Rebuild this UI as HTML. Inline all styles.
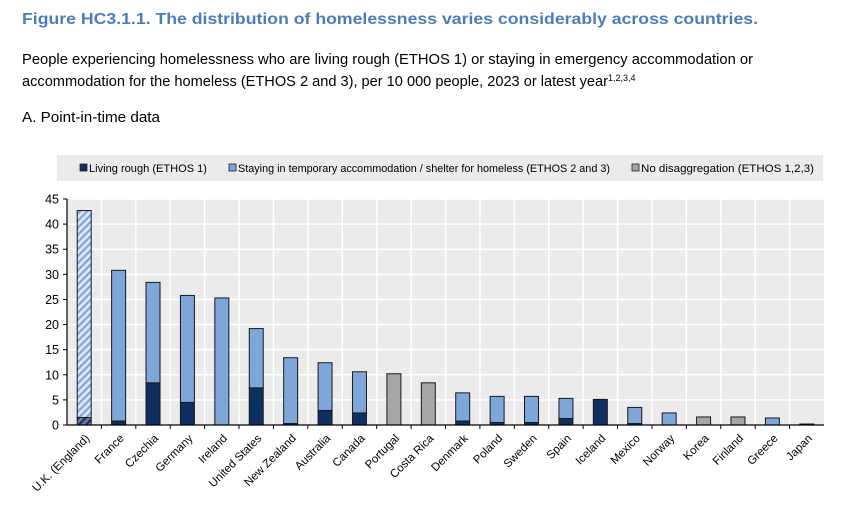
<!DOCTYPE html>
<html><head><meta charset="utf-8"><style>
body{margin:0;background:#fff}
svg text{font-family:"Liberation Sans",sans-serif}
</style></head><body>
<svg id="c" width="857" height="501" xmlns="http://www.w3.org/2000/svg">
<defs>
<pattern id="hatchL" patternUnits="userSpaceOnUse" width="5" height="5" patternTransform="rotate(45)">
<rect width="5" height="5" fill="#dce8f6"/><rect width="2.2" height="5" fill="#7ea6d8"/></pattern>
<pattern id="hatchD" patternUnits="userSpaceOnUse" width="5" height="5" patternTransform="rotate(45)">
<rect width="5" height="5" fill="#6a7fa0"/><rect width="2.2" height="5" fill="#0f2f63"/></pattern>
</defs>
<text x="22" y="24" font-size="16" font-weight="bold" fill="#4a7ebb" textLength="736" lengthAdjust="spacingAndGlyphs">Figure HC3.1.1. The distribution of homelessness varies considerably across countries.</text>
<text x="22" y="64" font-size="15" fill="#000" textLength="731" lengthAdjust="spacingAndGlyphs">People experiencing homelessness who are living rough (ETHOS 1) or staying in emergency accommodation or</text>
<text x="22" y="86" font-size="15" fill="#000"><tspan textLength="586" lengthAdjust="spacingAndGlyphs">accommodation for the homeless (ETHOS 2 and 3), per 10 000 people, 2023 or latest year</tspan><tspan font-size="9" dy="-5">1,2,3,4</tspan></text>
<text x="22" y="122" font-size="15" fill="#000" textLength="138" lengthAdjust="spacingAndGlyphs">A. Point-in-time data</text>
<g>
<rect x="57" y="155" width="766" height="26" fill="#ebebeb"/>
<rect x="80" y="164" width="7" height="7" fill="#0f2f63" stroke="#222" stroke-width="0.8"/>
<text x="89" y="172" font-size="11" textLength="118" lengthAdjust="spacingAndGlyphs">Living rough (ETHOS 1)</text>
<rect x="229" y="164" width="7" height="7" fill="#7ea6d8" stroke="#222" stroke-width="0.8"/>
<text x="238" y="172" font-size="11" textLength="372" lengthAdjust="spacingAndGlyphs">Staying in temporary accommodation / shelter for homeless (ETHOS 2 and 3)</text>
<rect x="632" y="164" width="7" height="7" fill="#a6a6a6" stroke="#222" stroke-width="0.8"/>
<text x="641" y="172" font-size="11" textLength="173" lengthAdjust="spacingAndGlyphs">No disaggregation (ETHOS 1,2,3)</text>
</g>
<g id="plot"></g>
</svg>
<script>
const categories=["U.K. (England)","France","Czechia","Germany","Ireland","United States","New Zealand","Australia","Canada","Portugal","Costa Rica","Denmark","Poland","Sweden","Spain","Iceland","Mexico","Norway","Korea","Finland","Greece","Japan"];
const livingRough=[1.5,0.8,8.4,4.5,0,7.4,0.3,2.9,2.4,0,0,0.8,0.5,0.5,1.3,5.1,0.3,0,0,0,0,0.2];
const temporaryAccommodation=[41.2,30.0,20.0,21.3,25.3,11.8,13.1,9.5,8.2,0,0,5.6,5.2,5.2,4.0,0,3.2,2.4,0,0,1.4,0];
const noDisaggregation=[0,0,0,0,0,0,0,0,0,10.2,8.4,0,0,0,0,0,0,0,1.6,1.6,0,0];
const yTicks=[0,5,10,15,20,25,30,35,40,45];
const hatched=["U.K. (England)"];

const NS="http://www.w3.org/2000/svg";
const g=document.getElementById('plot');
const X0=67,X1=824,Y0=425,Ytop=199,YMAX=45;
const bw=(X1-X0)/categories.length;
const y=v=>Y0-(v/YMAX)*(Y0-Ytop);
const xc=i=>X0+bw*(i+0.5);
function mk(t,a){const e=document.createElementNS(NS,t);for(const k in a)e.setAttribute(k,a[k]);g.appendChild(e);return e;}
const bg=mk('rect',{x:X0,y:Ytop,width:X1-X0,height:Y0-Ytop,fill:'#ebebeb'});


yTicks.forEach(t=>{
  const l=mk('line',{x1:X0,x2:X1,y1:y(t),y2:y(t),stroke:'#fff','stroke-width':1.5});
  
  
  const tx=mk('text',{x:X0-8,y:y(t)+4.5,'font-size':12.5,'text-anchor':'end'});
  tx.textContent=t;
  
  
  const tk=mk('line',{x1:X0-4,x2:X0,y1:y(t),y2:y(t),stroke:'#000'});
  
  
});
for(let i=1;i<categories.length;i++){
  const l=mk('line',{x1:X0+bw*i,x2:X0+bw*i,y1:Ytop,y2:Y0,stroke:'#fff','stroke-width':1.5});
  
  
}
const BW=14;
categories.forEach((c,i)=>{
  const h=hatched.includes(c);
  const segs=[[livingRough[i],h?'url(#hatchD)':'#0f2f63'],[temporaryAccommodation[i],h?'url(#hatchL)':'#7ea6d8'],[noDisaggregation[i],'#a6a6a6']];
  let base=0;
  segs.forEach((s,k)=>{
    if(s[0]<=0)return;
    const r=mk('rect',{x:xc(i)-BW/2,y:y(base+s[0]),width:BW,height:y(base)-y(base+s[0]),fill:s[1],stroke:'#1a1a1a','stroke-width':1});
    
    
    base+=s[0];
  });
  const t=mk('text',{x:xc(i)+6,y:Y0+14,'font-size':11.5,'text-anchor':'end',transform:`rotate(-45 ${xc(i)+6} ${Y0+14})`});
  t.textContent=c;
  
  
  if(i>0){const tk=mk('line',{x1:X0+bw*i,x2:X0+bw*i,y1:Y0,y2:Y0+4,stroke:'#000'});
  
  }
});
const ax=mk('line',{x1:X0,x2:X1,y1:Y0,y2:Y0,stroke:'#000','stroke-width':1.2});


const ay=mk('line',{x1:X0,x2:X0,y1:Ytop,y2:Y0,stroke:'#000','stroke-width':1.2});


</script>
</body></html>
